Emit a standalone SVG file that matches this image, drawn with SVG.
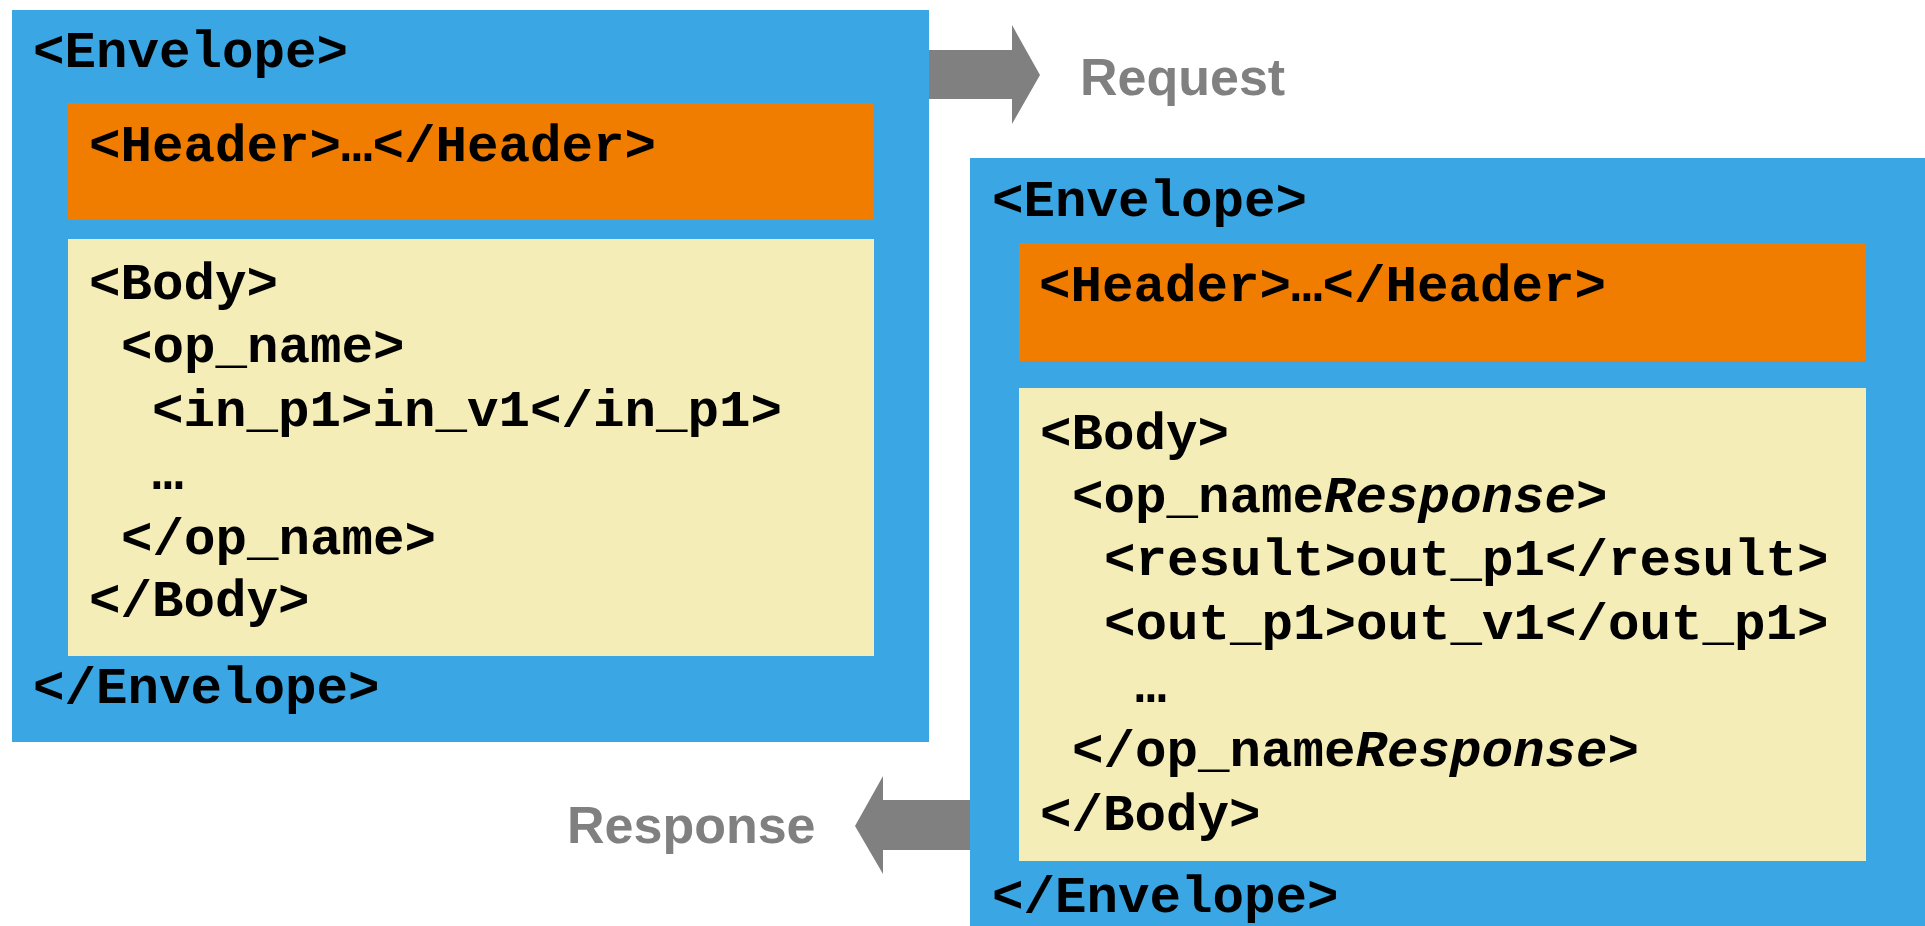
<svg xmlns="http://www.w3.org/2000/svg" width="1925" height="926" viewBox="0 0 1925 926">
  <style>
    .envelope { fill: #3AA6E3; }
    .header { fill: #F07D00; }
    .body { fill: #F5EDB7; }
    .code { font-family: "Liberation Mono", "Courier New", monospace; font-weight: bold; font-size: 52.5px; fill: #000000; }
    .it { font-style: italic; }
    .flow { fill: #808080; }
    .flow-label { font-family: "Liberation Sans", Arial, sans-serif; font-weight: bold; font-size: 52px; fill: #808080; }
  </style>

  <!-- Request message -->
  <g id="request-envelope">
    <rect class="envelope" x="12" y="10" width="917" height="732"/>
    <text class="code" x="33" y="67">&lt;Envelope&gt;</text>
    <g id="request-header">
      <rect class="header" x="68" y="103" width="806" height="117"/>
      <text class="code" x="89" y="161">&lt;Header&gt;…&lt;/Header&gt;</text>
    </g>
    <g id="request-body">
      <rect class="body" x="68" y="239" width="806" height="417"/>
      <text class="code" x="89" y="299">&lt;Body&gt;</text>
      <text class="code" x="121" y="362">&lt;op_name&gt;</text>
      <text class="code" x="152" y="426">&lt;in_p1&gt;in_v1&lt;/in_p1&gt;</text>
      <text class="code" x="152" y="489">…</text>
      <text class="code" x="121" y="554">&lt;/op_name&gt;</text>
      <text class="code" x="89" y="616">&lt;/Body&gt;</text>
    </g>
    <text class="code" x="33" y="703">&lt;/Envelope&gt;</text>
  </g>

  <!-- Response message -->
  <g id="response-envelope">
    <rect class="envelope" x="970" y="158" width="955" height="768"/>
    <text class="code" x="992" y="216">&lt;Envelope&gt;</text>
    <g id="response-header">
      <rect class="header" x="1019" y="243" width="847" height="118"/>
      <text class="code" x="1039" y="301">&lt;Header&gt;…&lt;/Header&gt;</text>
    </g>
    <g id="response-body">
      <rect class="body" x="1019" y="388" width="847" height="473"/>
      <text class="code" x="1040" y="449">&lt;Body&gt;</text>
      <text class="code" x="1072" y="512">&lt;op_name<tspan class="it">Response</tspan>&gt;</text>
      <text class="code" x="1104" y="575">&lt;result&gt;out_p1&lt;/result&gt;</text>
      <text class="code" x="1104" y="639">&lt;out_p1&gt;out_v1&lt;/out_p1&gt;</text>
      <text class="code" x="1135" y="702">…</text>
      <text class="code" x="1072" y="766">&lt;/op_name<tspan class="it">Response</tspan>&gt;</text>
      <text class="code" x="1040" y="830">&lt;/Body&gt;</text>
    </g>
    <text class="code" x="992" y="912">&lt;/Envelope&gt;</text>
  </g>

  <!-- Block arrows between the two messages -->
  <g id="connectors">
    <polygon class="flow" points="929,50 1012,50 1012,25 1040,75 1012,124 1012,99 929,99"/>
    <polygon class="flow" points="970,800 883,800 883,776 855,826 883,874 883,850 970,850"/>
  </g>

  <text class="flow-label" x="1080" y="95">Request</text>
  <text class="flow-label" x="567" y="843">Response</text>
</svg>
